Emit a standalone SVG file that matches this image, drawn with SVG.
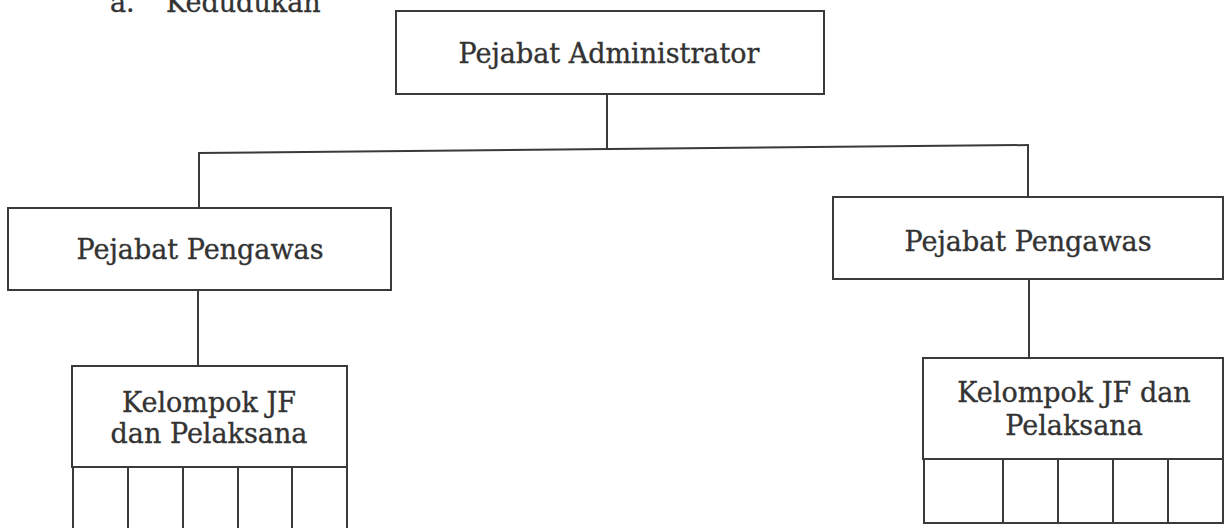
<svg xmlns="http://www.w3.org/2000/svg" width="1225" height="528" viewBox="0 0 1225 528">
<style>
.box{fill:#fff;stroke:#3a3a3a;stroke-width:2}
.ln{stroke:#3a3a3a;stroke-width:2;fill:none}
text{font-family:"DejaVu Serif","Liberation Serif",serif;font-size:27px;fill:#333;stroke:#333;stroke-width:0.35;text-anchor:middle}
</style>
<rect width="1225" height="528" fill="#fff"/>
<text x="110" y="12" style="text-anchor:start">a.</text>
<text x="166" y="12" style="text-anchor:start">Kedudukan</text>
<g id="connectors">
<line class="ln" x1="607" y1="94" x2="607" y2="149"/>
<line class="ln" x1="198" y1="153" x2="1029" y2="145"/>
<line class="ln" x1="199" y1="153" x2="199" y2="208"/>
<line class="ln" x1="1028" y1="145" x2="1028" y2="197"/>
<line class="ln" x1="198" y1="290" x2="198" y2="366"/>
<line class="ln" x1="1029" y1="279" x2="1029" y2="358"/>
</g>
<g id="admin">
<rect class="box" x="396" y="11" width="428" height="83"/>
<text x="609" y="63">Pejabat Administrator</text>
</g>
<g id="pengawas-left">
<rect class="box" x="8" y="208" width="383" height="82"/>
<text x="200" y="259">Pejabat Pengawas</text>
</g>
<g id="pengawas-right">
<rect class="box" x="833" y="197" width="390" height="82"/>
<text x="1028" y="251">Pejabat Pengawas</text>
</g>
<g id="kelompok-left">
<rect class="box" x="72" y="366" width="275" height="101"/>
<text x="209" y="412">Kelompok JF</text>
<text x="209" y="443">dan Pelaksana</text>
<path class="ln" d="M73 467V529M128 467V529M183 467V529M238 467V529M292 467V529M347 467V529"/>
</g>
<g id="kelompok-right">
<rect class="box" x="923" y="358" width="300" height="101"/>
<text x="1074" y="402">Kelompok JF dan</text>
<text x="1074" y="435">Pelaksana</text>
<path class="ln" d="M924 459V523H1223V459M1003 459V523M1058 459V523M1113 459V523M1168 459V523"/>
</g>
</svg>
